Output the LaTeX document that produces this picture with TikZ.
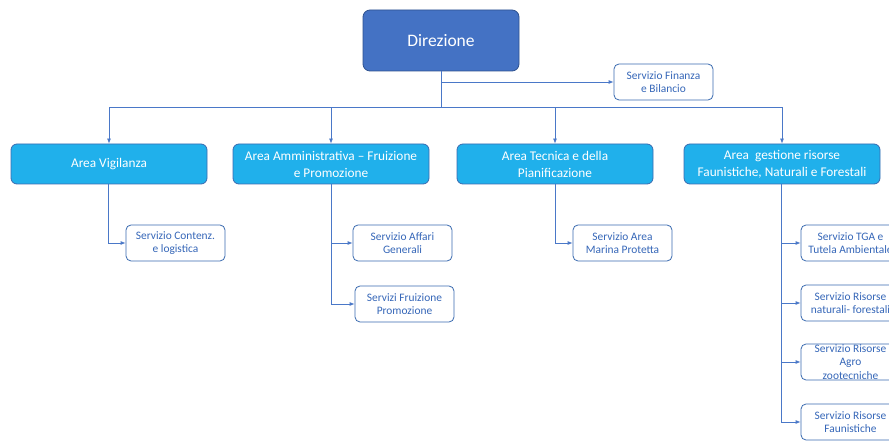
\documentclass[tikz,border=0pt]{standalone}
\usepackage{fontspec}
\setmainfont{Carlito}
\usetikzlibrary{arrows.meta, positioning, calc}
\definecolor{dirblue}{HTML}{4472C4}
\definecolor{dirborder}{HTML}{2F528F}
\definecolor{areablue}{HTML}{20B0EB}
\definecolor{areaborder}{HTML}{3A6BB0}
\definecolor{linkblue}{HTML}{4A78C8}
\definecolor{subtext}{HTML}{3566B8}
\tikzset{
	every node/.style={
		align=center,
	},
}
\tikzstyle{direzione} = [rectangle, rounded corners=7pt, draw=dirborder, line width=0.8pt, fill=dirblue, text=white, minimum width=156pt, minimum height=61pt, font=\fontsize{17.5}{20}\selectfont]
\tikzstyle{area} = [rectangle, rounded corners=6pt, draw=areaborder, line width=0.8pt, fill=areablue, text=white, minimum width=196pt, minimum height=40pt, inner sep=1pt, font=\fontsize{13.3}{17}\selectfont]
\tikzstyle{servizio} = [rectangle, rounded corners=5pt, draw=areaborder, line width=0.8pt, fill=white, text=subtext, minimum width=99pt, minimum height=36pt, inner sep=1pt, font=\fontsize{11.4}{12.7}\selectfont]
\tikzstyle{link} = [-{Latex[length=5pt,width=4pt]}, linkblue, line width=0.8pt]
\tikzstyle{bus} = [linkblue, line width=0.8pt]

\begin{document}
\begin{tikzpicture}[x=1pt, y=-1pt]
    \clip (0,0) rectangle (889,443);
    \fill[white] (0,0) rectangle (889,443);

    % direzione e staff
    \node (dir) [direzione] at (441,40.5) {Direzione};
    \node (fin) [servizio] at (663.5,82) {Servizio Finanza\\e Bilancio};

    % aree
    \node (vig) [area] at (109,164) {Area Vigilanza};
    \node (amm) [area] at (331,164) {Area Amministrativa -- Fruizione\\e Promozione};
    \node (tec) [area] at (555,164) {Area Tecnica e della\\Pianificazione};
    \node (ges) [area] at (782,164) {Area\ \ gestione risorse\\Faunistiche, Naturali e Forestali};

    % servizi
    \node (cont) [servizio] at (175.5,243) {Servizio Contenz.\\e logistica};
    \node (aff) [servizio] at (402.5,243) {Servizio Affari\\Generali};
    \node (fru) [servizio] at (404.5,304) {Servizi Fruizione\\Promozione};
    \node (mar) [servizio] at (622.5,243) {Servizio Area\\Marina Protetta};
    \node (tga) [servizio] at (850.5,243) {Servizio TGA e\\Tutela Ambientale};
    \node (nat) [servizio] at (850.5,303) {Servizio Risorse\\naturali- forestali};
    \node (agr) [servizio] at (850.5,362) {};
    \node (agrtext) [text=subtext, font=\fontsize{11.4}{13.5}\selectfont, inner sep=0pt] at (agr.center) {Servizio Risorse\\Agro\\zootecniche};
    \node (fau) [servizio] at (850.5,422) {Servizio Risorse\\Faunistiche};

    % collegamenti
    \coordinate (bus) at ($(dir.south)+(0,36)$);
    \draw[bus] (dir.south) -- (bus);
    \draw[link] (dir.south |- fin.west) -- (fin.west);
    \draw[bus] (vig.north |- bus) -- (ges.north |- bus);
    \foreach \a in {vig, amm, tec, ges}
        \draw[link] (\a.north |- bus) -- (\a.north);

    \draw[link] ([xshift=-1pt]vig.south) |- (cont.west);
    \draw[link] (amm.south) |- (aff.west);
    \draw[link] (amm.south) |- (fru.west);
    \draw[link] (tec.south) |- (mar.west);
    \foreach \s in {tga, nat, agr, fau}
        \draw[link] ([xshift=-1pt]ges.south) |- (\s.west);
\end{tikzpicture}
\end{document}
